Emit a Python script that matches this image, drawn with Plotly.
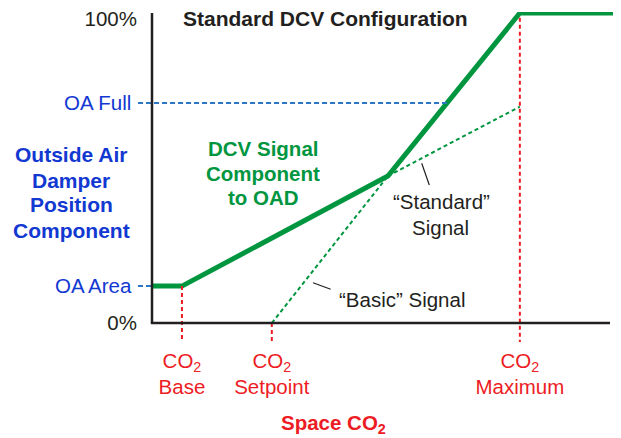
import plotly.graph_objects as go

# ---------------- data ----------------
co2_labels = ["Base", "Setpoint", "Maximum"]
co2_values = [6.4, 25.6, 78.6]          # position along Space CO2 axis (0-100)
oa_labels = ["0%", "OA Area", "OA Full", "100%"]
oa_values = [0.0, 11.9, 71.0, 100.0]    # damper position %

dcv_x = [0.0, 6.4, 50.4, 78.6, 100.0]   # thick DCV signal component
dcv_y = [11.9, 11.9, 47.4, 100.0, 100.0]
standard_x = [50.4, 78.6]               # "Standard" signal extension
standard_y = [47.4, 69.8]
basic_x = [25.6, 50.4]                  # "Basic" signal
basic_y = [0.0, 47.4]
oa_full_end_x = 63.0                    # OA Full dashed line meets DCV line

# ---------------- styles / layout ----------------
FONT = "Liberation Sans, Arial, Helvetica, sans-serif"
GREEN = "#00963f"
RED = "#ed1c24"
BLUE_TXT = "#1238d2"
BLUE_LN = "#2a78c6"
BLACK = "#231f20"

OFF = 8                      # page body margin
W, H = 621 - OFF, 438 - OFF
ML, MR, MT, MB = 138 - OFF, 0, 4, 438 - 346
# pixel anchors of the data frame (page coordinates)
PX_X0, PX_X100, PX_Y0, PX_Y100 = 152, 620, 323, 13
sx = (PX_X100 - PX_X0) / 100.0
sy = (PX_Y0 - PX_Y100) / 100.0
xr = [(ML + OFF - PX_X0) / sx, (W + OFF - MR - PX_X0) / sx]
yr = [(PX_Y0 - (H + OFF - MB)) / sy, (PX_Y0 - (MT + OFF)) / sy]


def dx(px):
    return (px - PX_X0) / sx


def dy(py):
    return (PX_Y0 - py) / sy


fig = go.Figure()

fig.add_trace(go.Scatter(x=basic_x, y=basic_y, mode="lines",
                         line=dict(color=GREEN, width=2, dash="4px,3px"),
                         hoverinfo="skip", showlegend=False))
fig.add_trace(go.Scatter(x=standard_x, y=standard_y, mode="lines",
                         line=dict(color=GREEN, width=2, dash="4px,3px"),
                         hoverinfo="skip", showlegend=False))

shapes = []
shapes.append(dict(type="line", xref="x", yref="y", x0=xr[0], x1=oa_full_end_x,
                   y0=oa_values[2], y1=oa_values[2],
                   line=dict(color=BLUE_LN, width=2, dash="5px,3px")))
shapes.append(dict(type="line", xref="x", yref="y", x0=xr[0], x1=0,
                   y0=oa_values[1], y1=oa_values[1],
                   line=dict(color=BLUE_LN, width=2, dash="5px,3px")))
red_tops = [dcv_y[1], 0.0, 98.5]
for xv, top in zip(co2_values, red_tops):
    shapes.append(dict(type="line", xref="x", yref="y", x0=xv, x1=xv,
                       y0=top, y1=dy(342),
                       line=dict(color=RED, width=2, dash="4px,3px")))
# axes
shapes.append(dict(type="line", xref="x", yref="y", x0=0, x1=0, y0=0, y1=100,
                   line=dict(color=BLACK, width=2.5)))
shapes.append(dict(type="line", xref="x", yref="y", x0=-0.25, x1=dx(610), y0=0, y1=0,
                   line=dict(color=BLACK, width=2.5)))
# leader lines
shapes.append(dict(type="line", xref="x", yref="y", x0=dx(421.7), y0=dy(163.3),
                   x1=dx(429.3), y1=dy(185), line=dict(color=BLACK, width=1.2)))
shapes.append(dict(type="line", xref="x", yref="y", x0=dx(313), y0=dy(282.7),
                   x1=dx(330.7), y1=dy(289.3), line=dict(color=BLACK, width=1.2)))

fig.add_trace(go.Scatter(x=dcv_x, y=dcv_y, mode="lines",
                         line=dict(color=GREEN, width=5),
                         hoverinfo="skip", showlegend=False))
# invisible anchor trace so the overlay axis carrying the "100%" tick is drawn
fig.add_trace(go.Scatter(x=[dcv_x[-1]], y=[dcv_y[-1]], yaxis="y2", mode="markers",
                         marker=dict(opacity=0), hoverinfo="skip", showlegend=False))

ytext = []
for lab in oa_labels:
    if lab.startswith("OA"):
        ytext.append('<span style="color:%s">%s</span>\u00a0' % (BLUE_TXT, lab))
    else:
        ytext.append(lab)
xtext = ["CO<sub>2</sub><br>%s" % l for l in co2_labels]

# (text, page x centre, page y centre, size, colour)
ann = [
    ("<b>Standard DCV Configuration</b>", 325.5, 18, 21, BLACK),
    ("<b>DCV Signal</b>", 263, 148, 20.5, GREEN),
    ("<b>Component</b>", 263, 173, 20.5, GREEN),
    ("<b>to OAD</b>", 263, 198, 20.5, GREEN),
    ("<b>Outside Air</b>", 71, 154, 21, BLUE_TXT),
    ("<b>Damper</b>", 71, 180, 21, BLUE_TXT),
    ("<b>Position</b>", 71, 205, 21, BLUE_TXT),
    ("<b>Component</b>", 71, 230, 21, BLUE_TXT),
    ("\u201cStandard\u201d", 441, 201, 20.5, BLACK),
    ("Signal", 440, 227, 20.5, BLACK),
    ("\u201cBasic\u201d Signal", 401.5, 299, 20.5, BLACK),
    ("<b>Space CO<sub>2</sub></b>", 333, 424, 20.5, RED),
]
annotations = []
pw, ph = W - ML - MR, H - MT - MB
for text, px, py, size, col in ann:
    annotations.append(dict(text=text, xref="paper", yref="paper",
                            x=(px - OFF - ML) / pw,
                            y=1 - (py - OFF - MT) / ph,
                            xanchor="center", yanchor="middle", showarrow=False,
                            align="center", font=dict(family=FONT, size=size, color=col)))

yaxis_common = dict(range=yr, showgrid=False, zeroline=False, showline=False,
                    ticks="", fixedrange=True, automargin=False,
                    tickfont=dict(family=FONT, size=20.5, color=BLACK))

fig.update_layout(
    width=W, height=H,
    margin=dict(l=ML, r=MR, t=MT, b=MB, pad=0, autoexpand=False),
    paper_bgcolor="white", plot_bgcolor="white",
    shapes=shapes, annotations=annotations,
    font=dict(family=FONT, color=BLACK),
    xaxis=dict(range=xr, showgrid=False, zeroline=False, showline=False,
               tickvals=co2_values, ticktext=xtext, ticks="", automargin=False,
               tickfont=dict(family=FONT, size=20.5, color=RED), fixedrange=True),
    yaxis=dict(tickvals=oa_values[:3], ticktext=ytext[:3], **yaxis_common),
    yaxis2=dict(overlaying="y", side="left", tickvals=oa_values[3:], ticktext=ytext[3:],
                ticklabelshift=6, ticklabeloverflow="allow", **yaxis_common),
)

fig.write_html("out.html")
